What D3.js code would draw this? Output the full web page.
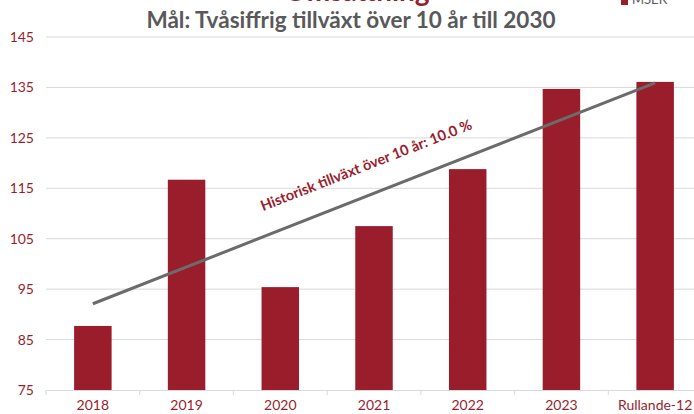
<!DOCTYPE html>
<html>
<head>
<meta charset="utf-8">
<script src="https://cdn.jsdelivr.net/npm/d3@7"></script>
<style>
  body { margin: 0; background: #fff; }
  svg { display: block; font-family: Lato, "Open Sans", sans-serif; }
</style>
</head>
<body>
<div id="chart"></div>
<script>
// data
const categories = ["2018", "2019", "2020", "2021", "2022", "2023", "Rullande-12"];
const omsattning = [87.7, 116.7, 95.4, 107.5, 118.8, 134.7, 136.1];
const trendEnds = [92.1, 135.9];   // historisk trendlinje, första och sista kategorin
const yTicks = [75, 85, 95, 105, 115, 125, 135, 145];

const W = 694, H = 414;
const margin = { top: 37, right: -8, bottom: 24, left: 46 },
    width = W - margin.left - margin.right,
    height = H - margin.top - margin.bottom;

const red = "#9a1d2c";

const svg = d3.select("#chart")
    .append("svg")
    .attr("width", W)
    .attr("height", H);

// titles (top one is cut off in the original)
svg.append("text")
    .attr("x", 357).attr("y", 1)
    .attr("fill", red)
    .style("font-size", "28px")
    .style("font-weight", "bold")
    .style("text-anchor", "middle")
    .text("Omsättning");

svg.append("text")
    .attr("x", 351).attr("y", 28)
    .attr("fill", "#595959")
    .style("font-size", "22.5px")
    .style("font-weight", "bold")
    .style("text-anchor", "middle")
    .text("Mål: Tvåsiffrig tillväxt över 10 år till 2030");

// legend
svg.append("rect")
    .attr("x", 621).attr("y", -2).attr("width", 7).attr("height", 7)
    .attr("fill", red);
svg.append("text")
    .attr("x", 632).attr("y", 4)
    .attr("fill", "#595959")
    .style("font-size", "13px")
    .text("MSEK");

const g = svg.append("g")
    .attr("transform", "translate(" + margin.left + "," + margin.top + ")");

const x = d3.scaleBand()
    .domain(categories)
    .range([0, width])
    .paddingInner(0.6)
    .paddingOuter(0.3);

const y = d3.scaleLinear()
    .domain([75, 145])
    .range([height, 0]);

// gridlines
g.append("g")
    .selectAll("line")
    .data(yTicks.slice(1))
    .enter()
    .append("line")
    .attr("x1", 0).attr("x2", width)
    .attr("y1", d => y(d)).attr("y2", d => y(d))
    .attr("stroke", "#d9d9d9")
    .attr("stroke-width", 1);

// y axis labels
const yAxis = g.append("g")
    .call(d3.axisLeft(y).tickValues(yTicks).tickSize(0).tickPadding(12));
yAxis.select(".domain").remove();
yAxis.selectAll("text")
    .attr("fill", red)
    .style("font-size", "14px")
    .style("font-family", "Lato, 'Open Sans', sans-serif");

// bars
g.selectAll(".bar")
    .data(omsattning)
    .enter()
    .append("rect")
    .attr("class", "bar")
    .attr("x", (d, i) => x(categories[i]))
    .attr("y", d => y(d))
    .attr("width", x.bandwidth())
    .attr("height", d => height - y(d))
    .attr("fill", red);

// x axis
const xAxis = g.append("g")
    .attr("transform", "translate(0," + height + ")")
    .call(d3.axisBottom(x).tickSize(0).tickPadding(10));
xAxis.select(".domain").attr("stroke", "#d9d9d9");
xAxis.selectAll("text")
    .attr("fill", red)
    .style("font-size", "14px")
    .style("font-family", "Lato, 'Open Sans', sans-serif");

// tick marks between categories
const bounds = d3.range(categories.length + 1).map(i => i * x.step());
xAxis.selectAll(".sep")
    .data(bounds)
    .enter()
    .append("line")
    .attr("class", "sep")
    .attr("x1", d => d).attr("x2", d => d)
    .attr("y1", 0).attr("y2", 5)
    .attr("stroke", "#d9d9d9");

// trend line
const cx = c => x(c) + x.bandwidth() / 2;
const first = categories[0], last = categories[categories.length - 1];
const p1 = [cx(first), y(trendEnds[0])], p2 = [cx(last), y(trendEnds[1])];
g.append("line")
    .attr("x1", p1[0]).attr("y1", p1[1])
    .attr("x2", p2[0]).attr("y2", p2[1])
    .attr("stroke", "#6b6b6b")
    .attr("stroke-width", 3);

// trend label, rotated along the line
const angle = Math.atan2(p2[1] - p1[1], p2[0] - p1[0]) * 180 / Math.PI;
g.append("text")
    .attr("transform", "translate(" + (368 - margin.left) + "," + (170 - margin.top) + ") rotate(" + angle + ")")
    .attr("fill", red)
    .style("font-size", "14.5px")
    .style("font-weight", "bold")
    .style("text-anchor", "middle")
    .text("Historisk tillväxt över 10 år: 10.0 %");
</script>
</body>
</html>
